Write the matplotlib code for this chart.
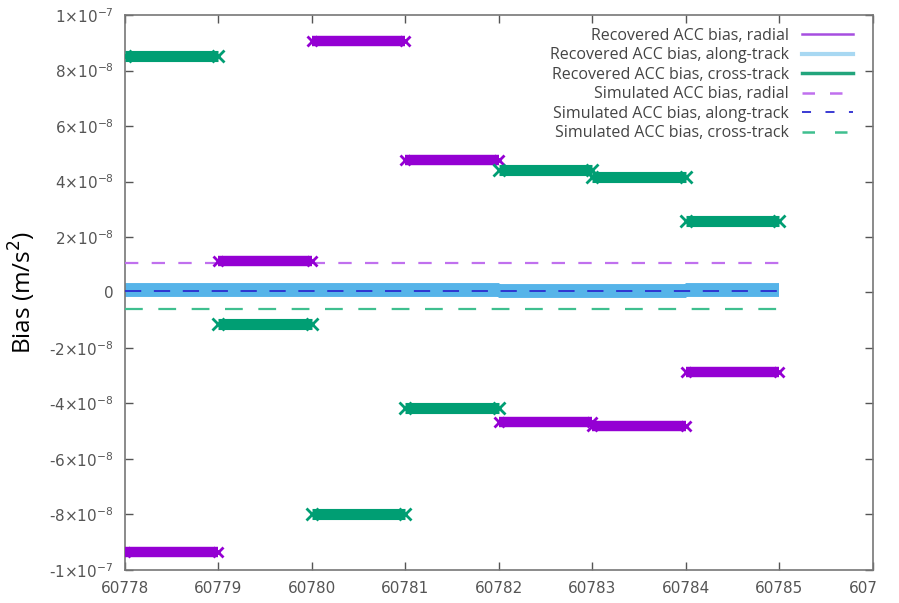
import matplotlib
matplotlib.use("Agg")
import matplotlib.pyplot as plt
from matplotlib.lines import Line2D
from matplotlib.patches import Rectangle

# day boundaries (MJD) and per-day recovered biases (m/s^2)
days = [60778, 60779, 60780, 60781, 60782, 60783, 60784, 60785]
rec_radial = [-9.35e-8, 1.12e-8, 9.05e-8, 4.76e-8, -4.68e-8, -4.80e-8, -2.88e-8]
rec_along = [0.10e-8, 0.10e-8, 0.10e-8, 0.10e-8, 0.05e-8, 0.05e-8, 0.10e-8]
rec_cross = [8.54e-8, -1.12e-8, -8.00e-8, -4.18e-8, 4.43e-8, 4.18e-8, 2.56e-8]

# simulated (constant) biases
sim_radial = 1.05e-8
sim_along = 0.07e-8
sim_cross = -0.60e-8

xticks = [60778, 60779, 60780, 60781, 60782, 60783, 60784, 60785, 60786]
yticks = [-1e-7, -8e-8, -6e-8, -4e-8, -2e-8, 0, 2e-8, 4e-8, 6e-8, 8e-8, 1e-7]
ytick_labels = [r"-1$\times$10$^{-7}$", r"-8$\times$10$^{-8}$", r"-6$\times$10$^{-8}$",
                r"-4$\times$10$^{-8}$", r"-2$\times$10$^{-8}$", "0",
                r"2$\times$10$^{-8}$", r"4$\times$10$^{-8}$", r"6$\times$10$^{-8}$",
                r"8$\times$10$^{-8}$", r"1$\times$10$^{-7}$"]

c_radial = "#9400d3"
c_along = "#56b4e9"
c_cross = "#009e73"
c_sim_radial = "#c070ee"
c_sim_along = "#2b2bd0"
c_sim_cross = "#3fbf8f"

fig = plt.figure(figsize=(8.99, 6.03), dpi=100)
ax = fig.add_axes([0.139, 0.055, 0.832, 0.920])

# along-track band as one continuous step line (underneath)
ax.step(days, rec_along + [rec_along[-1]], where="post", color=c_along,
        lw=10, solid_joinstyle="bevel", solid_capstyle="butt", zorder=2)

# simulated dashed lines
ax.plot([days[0], days[-1]], [sim_radial, sim_radial], color=c_sim_radial,
        lw=1.6, dashes=(6, 6), zorder=3)
ax.plot([days[0], days[-1]], [sim_along, sim_along], color=c_sim_along,
        lw=1.3, dashes=(9, 7), zorder=4)
ax.plot([days[0], days[-1]], [sim_cross, sim_cross], color=c_sim_cross,
        lw=1.6, dashes=(8, 7), zorder=3)

for i in range(len(rec_radial)):
    ax.plot([days[i], days[i + 1]], [rec_radial[i], rec_radial[i]],
            color=c_radial, lw=7.5, marker="x", ms=7, mew=2,
            solid_capstyle="butt", zorder=5)
    ax.plot([days[i], days[i + 1]], [rec_cross[i], rec_cross[i]],
            color=c_cross, lw=8, marker="x", ms=8, mew=2,
            solid_capstyle="butt", zorder=5)

ax.set_xlim(60778, 60786)
ax.set_ylim(-1e-7, 1e-7)
ax.set_xticks(xticks)
ax.set_xticklabels([str(t) for t in xticks])
ax.set_yticks(yticks)
ax.set_yticklabels(ytick_labels)

ax.tick_params(direction="in", top=True, right=True, length=6, width=1,
               colors="#555555", labelsize=11, pad=8)
for s in ax.spines.values():
    s.set_color("#777777")
    s.set_linewidth(1.2)

ax.set_ylabel("Bias (m/s$^2$)", fontsize=17.5, family="Open Sans", labelpad=8)

handles = [
    Line2D([], [], color="#a64ee0", lw=1.8),
    Line2D([], [], color="#a8d8f2", lw=3),
    Line2D([], [], color="#22a57c", lw=2.5),
    Line2D([], [], color=c_sim_radial, lw=1.8, dashes=(5, 6)),
    Line2D([], [], color=c_sim_along, lw=1.3, dashes=(5, 8)),
    Line2D([], [], color=c_sim_cross, lw=1.8, dashes=(5, 8)),
]
labels = [
    "Recovered ACC bias, radial",
    "Recovered ACC bias, along-track",
    "Recovered ACC bias, cross-track",
    "Simulated ACC bias, radial",
    "Simulated ACC bias, along-track",
    "Simulated ACC bias, cross-track",
]
leg = ax.legend(handles, labels, loc="upper right", frameon=False,
                markerfirst=False, handlelength=3.2, labelspacing=0.22,
                borderaxespad=0.4, bbox_to_anchor=(0.99, 1.0),
                prop={"family": "Open Sans", "size": 11.5})
for t in leg.get_texts():
    t.set_color("#444444")
leg._legend_box.align = "right"

# the source image is cut off on the right, just past the last tick label
fig.patches.append(Rectangle((876 / 899, 0), 23 / 899, 0.045,
                             transform=fig.transFigure, color="white",
                             zorder=10))

fig.savefig("out.png", dpi=100)
